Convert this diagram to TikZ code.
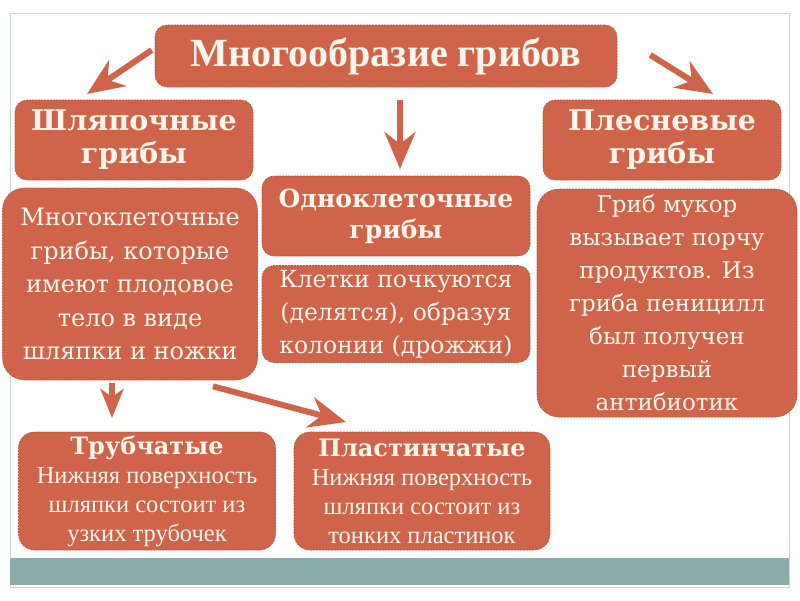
\documentclass[tikz,border=0pt]{standalone}
\usepackage{fontspec}
\setmainfont{DejaVu Serif}
\newfontfamily\narrowfont{Liberation Serif}
\usepackage{tikz}
\usetikzlibrary{arrows.meta, positioning}
\definecolor{boxfill}{RGB}{207, 100, 74}
\definecolor{boxline}{RGB}{176, 82, 60}
\definecolor{textcream}{RGB}{255, 246, 235}
\definecolor{framegray}{RGB}{200, 216, 216}
\definecolor{barteal}{RGB}{140, 171, 171}

\tikzset{
  box/.style={fill=boxfill, draw=boxline, line width=0.6pt, dash pattern=on 2pt off 1pt,
    rounded corners=12pt, text=textcream, align=center, inner sep=2pt},
  arr/.style={draw=boxfill, line width=6pt,
    -{Stealth[length=37pt, width=31pt, inset=12pt]}},
  shortarr/.style={draw=boxfill, line width=6pt,
    -{Stealth[length=29pt, width=23pt, inset=8pt]}},
}

\begin{document}
\begin{tikzpicture}[x=1pt, y=-1pt]
            \useasboundingbox (0,0) rectangle (800,600);
            % frame and bottom bar
            \draw[framegray, line width=1pt] (10,13) rectangle (789,587);
            \fill[barteal] (10,558) rectangle (789,585);
            % boxes
            \node[box, minimum width=462pt, minimum height=62pt, font=\narrowfont\bfseries\fontsize{40}{42}\selectfont] (title) at (386,56) {Многообразие грибов};
            \node[box, minimum width=238pt, minimum height=80pt, font=\bfseries\fontsize{28.5}{33}\selectfont] (cap) at (134,140) {Шляпочные\\грибы};
            \node[box, minimum width=238pt, minimum height=80pt, font=\bfseries\fontsize{28.5}{33}\selectfont] (mould) at (662,140) {Плесневые\\грибы};
            \node[box, minimum width=268pt, minimum height=80pt, font=\bfseries\fontsize{25}{31}\selectfont] (single) at (396,216) {Одноклеточные\\грибы};
            \node[box, minimum width=268pt, minimum height=97pt, font=\fontsize{23.5}{33}\selectfont] (buds) at (396,314) {Клетки почкуются\\(делятся), образуя\\колонии (дрожжи)};
            \node[box, rounded corners=22pt, minimum width=255pt, minimum height=192pt, font=\fontsize{24}{33.5}\selectfont] (multi) at (130,284) {Многоклеточные\\грибы, которые\\имеют плодовое\\тело в виде\\шляпки и ножки};
            \node[box, rounded corners=22pt, minimum width=260pt, minimum height=228pt, font=\fontsize{23}{33}\selectfont] (mucor) at (667,303) {Гриб мукор\\вызывает порчу\\продуктов. Из\\гриба пеницилл\\был получен\\первый\\антибиотик};
            \node[box, rounded corners=16pt, minimum width=257pt, minimum height=118pt, font=\narrowfont\fontsize{24.5}{29}\selectfont] (tube) at (147,491) {{\rmfamily\bfseries\fontsize{24}{29}\selectfont Трубчатые}\\Нижняя поверхность\\шляпки состоит из\\узких трубочек};
            \node[box, rounded corners=16pt, minimum width=256pt, minimum height=118pt, font=\narrowfont\fontsize{24.5}{29}\selectfont] (plate) at (422,491) {{\rmfamily\bfseries\fontsize{24}{29}\selectfont Пластинчатые}\\Нижняя поверхность\\шляпки состоит из\\тонких пластинок};
            % arrow tips
            \coordinate (capTip) at (87,94);
            \coordinate (mouldTip) at (713,94);
            \coordinate (singleTip) at (400,169);
            \coordinate (tubeTip) at (112,418);
            \coordinate (plateTip) at (346,422);
            % arrows
            \draw[arr] (title.west) ++(-3,-6) -- (capTip);
            \draw[arr] (title.east) ++(33,-1) -- (mouldTip);
            \draw[arr] (title.south) ++(14,13) -- (singleTip);
            \draw[shortarr] (multi.south) ++(-18,3) -- (tubeTip);
            \draw[arr] (multi.south) ++(83,6) -- (plateTip);
          \end{tikzpicture}
\end{document}
